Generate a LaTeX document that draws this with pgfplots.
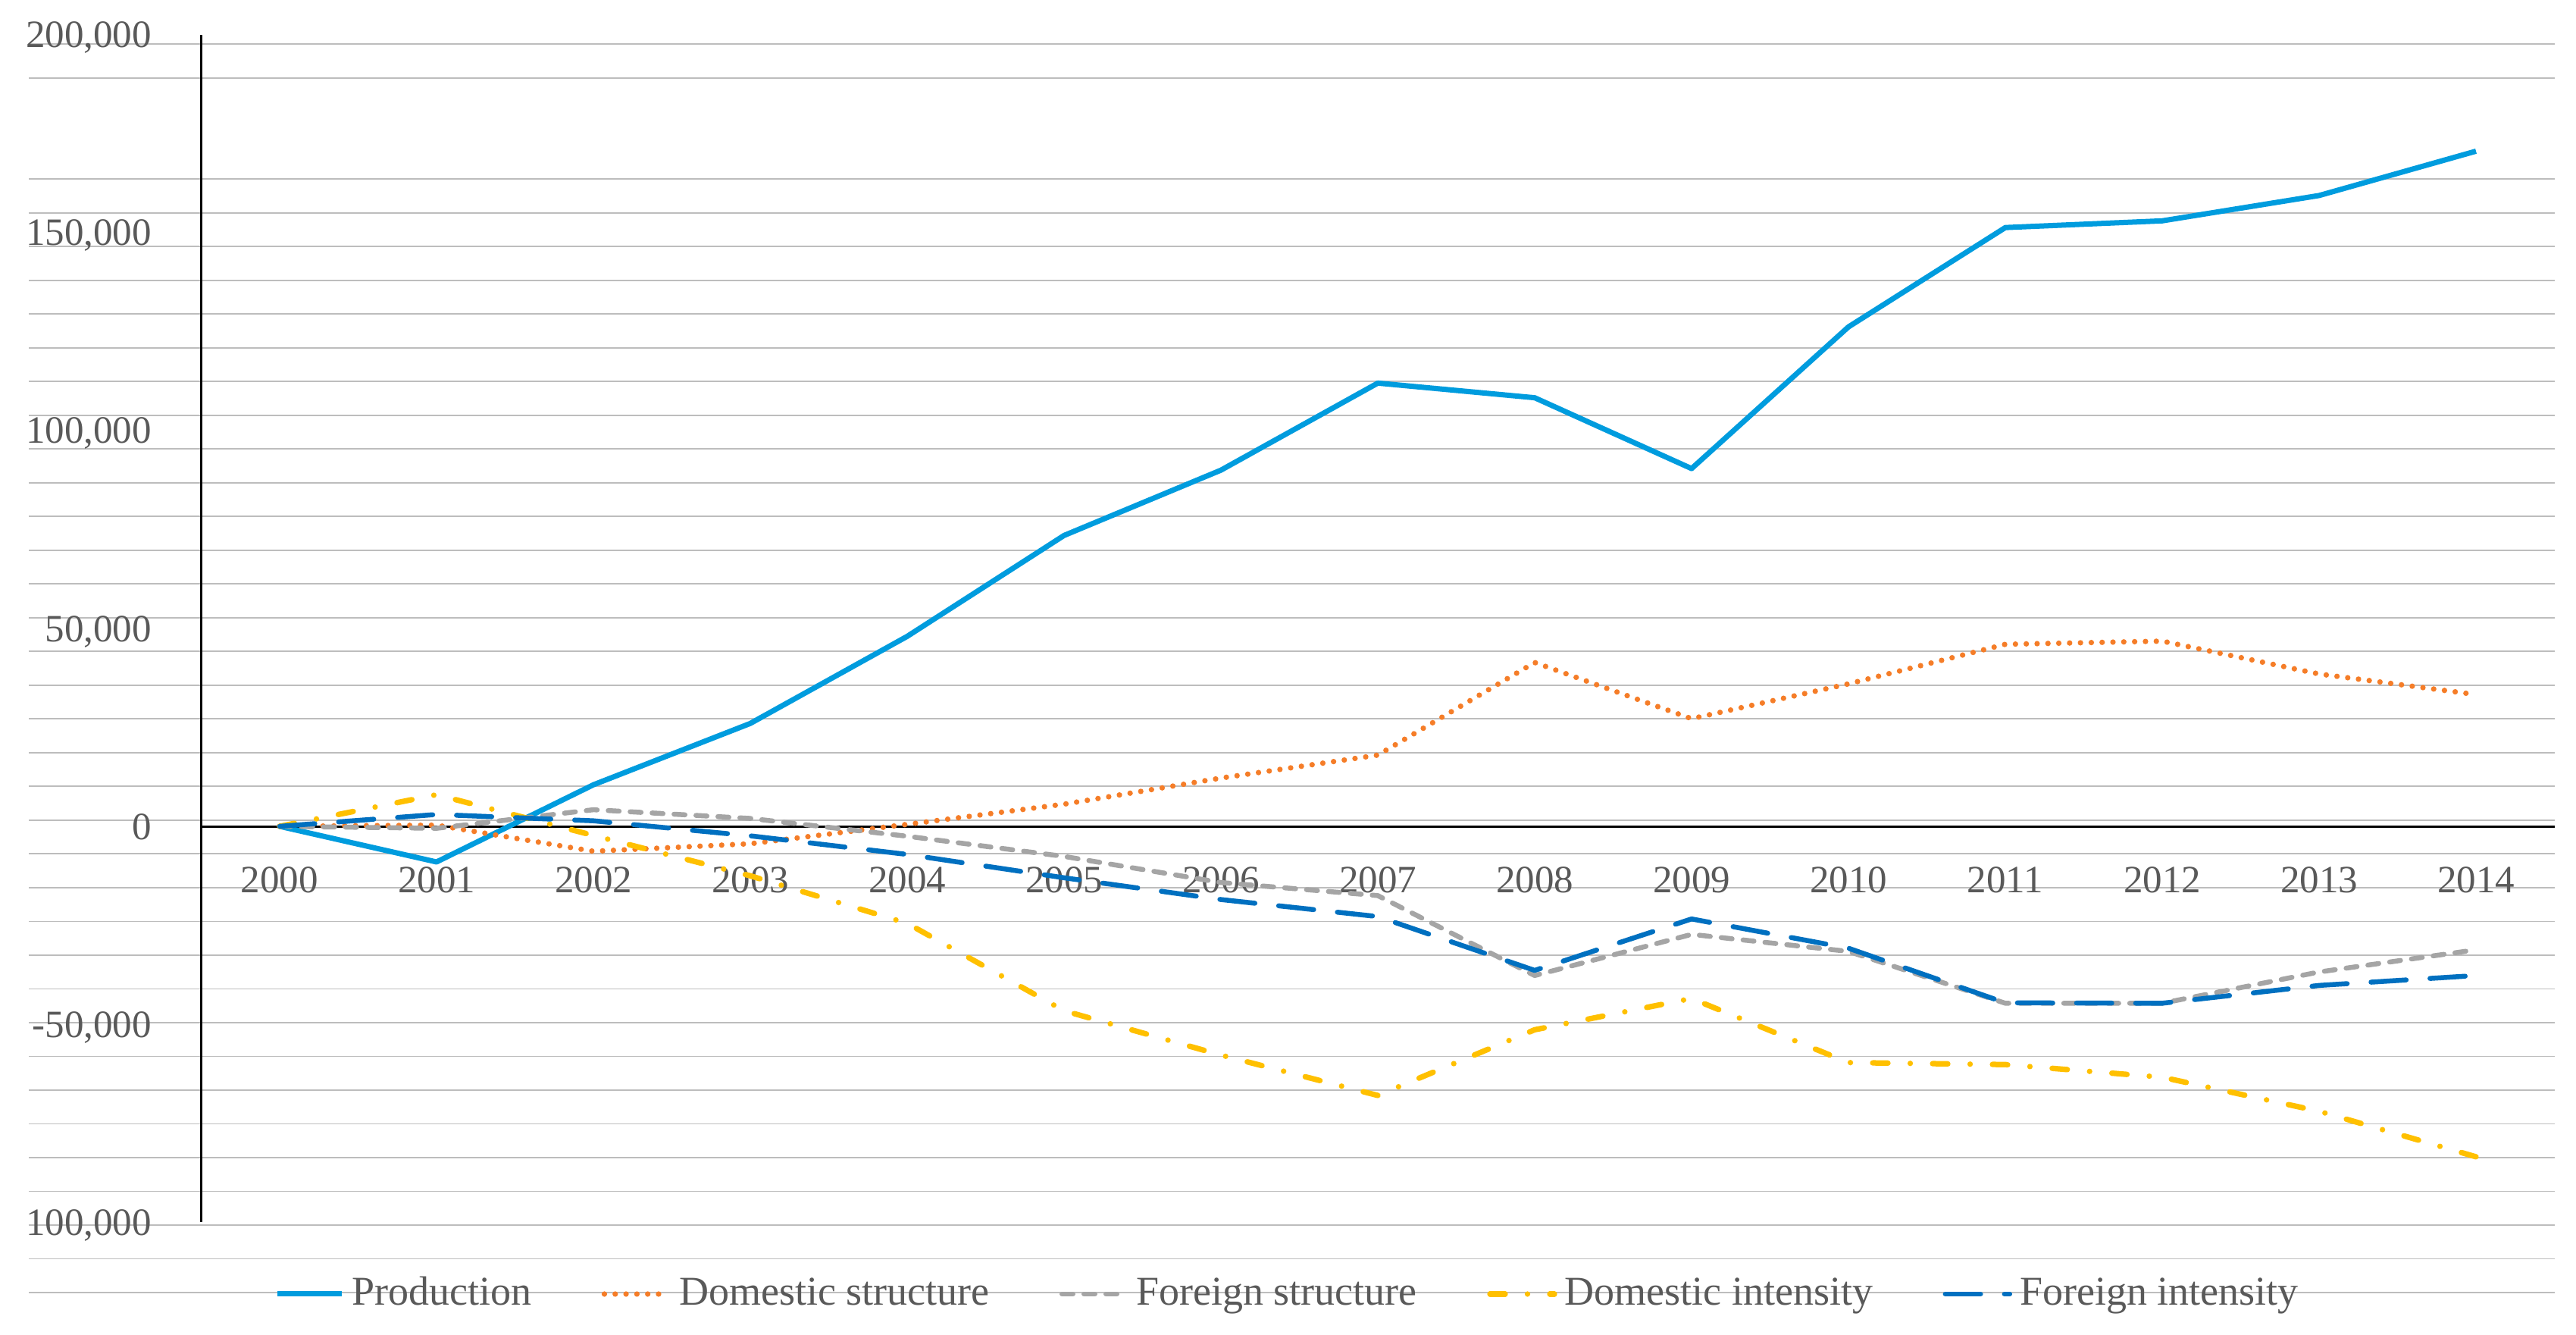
\documentclass[border=0pt]{standalone}
\usepackage{fontspec}
\setmainfont{Liberation Serif}
\usepackage{pgfplots}
\pgfplotsset{compat=1.18}

\definecolor{txtc}{HTML}{595959}
\definecolor{gridc}{HTML}{BDBDBD}
\definecolor{prodc}{RGB}{0,156,222}
\definecolor{dstrc}{RGB}{245,125,40}
\definecolor{fstrc}{HTML}{A5A5A5}
\definecolor{dintc}{HTML}{FFC000}
\definecolor{fintc}{HTML}{0070C0}

\begin{document}
\begin{tikzpicture}
\begin{axis}[
    scale only axis,
    width=666.54pt, height=331.8pt,
    xmin=-1.6, xmax=14.5,
    ymin=-117800, ymax=200000,
    clip=false,
    axis line style={draw=none},
    major tick length=0pt, minor tick length=0pt,
    scaled y ticks=false,
    /pgf/number format/assume math mode=true,
    xtick={0,1,2,3,4,5,6,7,8,9,10,11,12,13,14},
    xticklabels={2000,2001,2002,2003,2004,2005,2006,2007,2008,2009,2010,2011,2012,2013,2014},
    xticklabel style={anchor=center, yshift=108.8pt, font=\fontsize{10.2}{12}\selectfont, text=txtc},
    ytick={-100000,-50000,0,50000,100000,150000,200000},
    yticklabels={{100,000},{-50,000},{0},{50,000},{100,000},{150,000},{200,000}},
    yticklabel style={anchor=base east, inner sep=0pt, xshift=32.64pt, yshift=-3.4pt,
        font=\fontsize{10.2}{12}\selectfont, text=txtc},
    minor ytick={-117800,-109274,-100748,-92222,-83696,-75170,-66644,-58118,
        -49592,-41066,-32540,-24014,-15488,-6962,1564,10090,18616,27142,35668,
        44194,52720,61246,69772,78298,86824,95350,103876,112402,120928,129454,
        137980,146506,155032,163558,189136,197662},
    ymajorgrids=false, yminorgrids=true,
    minor grid style={color=gridc, line width=0.35pt},
    legend columns=5,
    legend style={at={(axis description cs:0.4995,-0.0012)}, anchor=center,
        draw=none, fill=none, font=\fontsize{10.8}{13}\selectfont, text=txtc,
        /tikz/every even column/.append style={column sep=16.5pt}},
    legend image code/.code={\draw[#1] (0pt,0pt) -- (17pt,0pt);},
    every axis plot/.append style={line join=round},
]
% axis lines of the chart
\draw[black, line width=0.5pt] (axis cs:-0.5,-100000) -- (axis cs:-0.5,200000);
\draw[black, line width=0.6pt] (axis cs:-0.5,0) -- (axis cs:14.5,0);

\addplot[prodc, line width=1.4pt] coordinates {
    (0,0) (1,-9000) (2,10500) (3,26000) (4,48000) (5,73500) (6,90000)
    (7,112000) (8,108300) (9,90400) (10,126200) (11,151300) (12,153000)
    (13,159400) (14,170600)
};
\addlegendentry{Production}

\addplot[dstrc, line width=1.45pt, line cap=round, dash pattern=on 0pt off 2.86pt] coordinates {
    (0,0) (1,300) (2,-6300) (3,-4400) (4,500) (5,5600) (6,12200)
    (7,18000) (8,41400) (9,27200) (10,36000) (11,46000) (12,46800)
    (13,38500) (14,33300)
};
\addlegendentry{Domestic structure}

\addplot[fstrc, line width=1.3pt, line cap=round, dash pattern=on 2.9pt off 2.9pt] coordinates {
    (0,0) (1,-500) (2,4200) (3,2000) (4,-2500) (5,-7600) (6,-14200)
    (7,-17500) (8,-37700) (9,-27300) (10,-31600) (11,-44700) (12,-44700)
    (13,-36800) (14,-31200)
};
\addlegendentry{Foreign structure}

\addplot[dintc, line width=1.45pt, line cap=round, dash pattern=on 4pt off 5.9pt on 0pt off 5.9pt] coordinates {
    (0,0) (1,8000) (2,-2300) (3,-12500) (4,-24500) (5,-46600) (6,-57800)
    (7,-68000) (8,-51400) (9,-43500) (10,-59700) (11,-60200) (12,-63400)
    (13,-72000) (14,-83500)
};
\addlegendentry{Domestic intensity}

\addplot[fintc, line width=1.3pt, line cap=round, dash pattern=on 9.3pt off 6.3pt] coordinates {
    (0,0) (1,3000) (2,1400) (3,-2400) (4,-7100) (5,-13000) (6,-18500)
    (7,-22800) (8,-36400) (9,-23400) (10,-30800) (11,-44600) (12,-44700)
    (13,-40200) (14,-37700)
};
\addlegendentry{Foreign intensity}

% page frame, same proportions as the reference
\path (axis cs:-1.7826,208812) rectangle (axis cs:14.6377,-128528);
\end{axis}
\end{tikzpicture}
\end{document}
